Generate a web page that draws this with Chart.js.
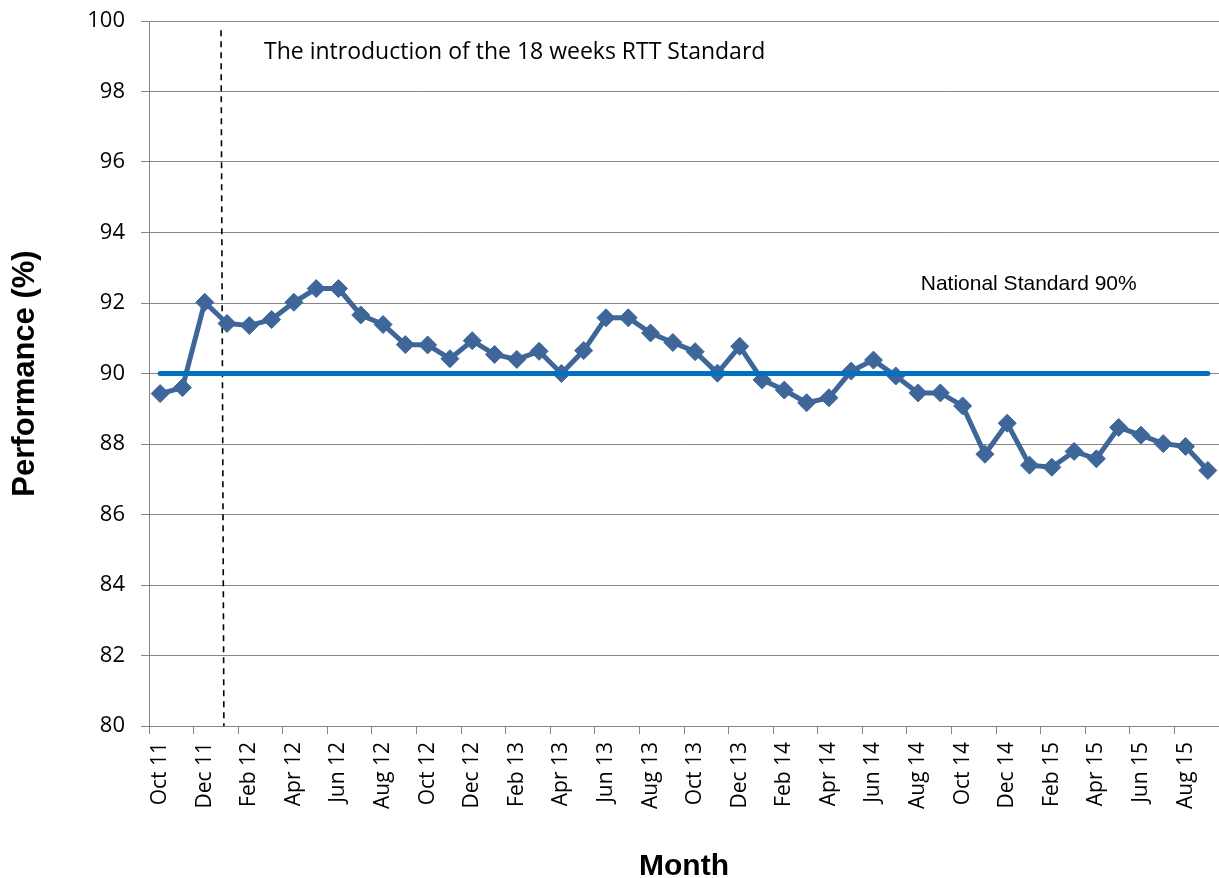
<!DOCTYPE html>
<html lang="en">
<head>
    <meta charset="UTF-8">
    <title>18 weeks RTT performance</title>
    <style>
        body {
            margin: 0;
            background-color: #fff;
        }
        .chart-box {
            position: relative;
            width: 1219px;
            height: 878px;
        }
    </style>
    <script src="https://cdn.jsdelivr.net/npm/chart.js"></script>
</head>
<body>
    <div class="chart-box">
        <canvas id="rttChart"></canvas>
    </div>

    <script>
        // months Oct 11 .. Sep 15
        const months = [
            'Oct 11', 'Nov 11', 'Dec 11', 'Jan 12', 'Feb 12', 'Mar 12', 'Apr 12', 'May 12',
            'Jun 12', 'Jul 12', 'Aug 12', 'Sep 12', 'Oct 12', 'Nov 12', 'Dec 12', 'Jan 13',
            'Feb 13', 'Mar 13', 'Apr 13', 'May 13', 'Jun 13', 'Jul 13', 'Aug 13', 'Sep 13',
            'Oct 13', 'Nov 13', 'Dec 13', 'Jan 14', 'Feb 14', 'Mar 14', 'Apr 14', 'May 14',
            'Jun 14', 'Jul 14', 'Aug 14', 'Sep 14', 'Oct 14', 'Nov 14', 'Dec 14', 'Jan 15',
            'Feb 15', 'Mar 15', 'Apr 15', 'May 15', 'Jun 15', 'Jul 15', 'Aug 15', 'Sep 15'
        ];

        // performance (%)
        const performance = [
            89.43, 89.60, 92.02, 91.42, 91.36, 91.53, 92.02, 92.41,
            92.41, 91.66, 91.39, 90.82, 90.81, 90.42, 90.93, 90.54,
            90.40, 90.63, 90.00, 90.65, 91.58, 91.58, 91.15, 90.88,
            90.62, 90.01, 90.77, 89.82, 89.53, 89.17, 89.31, 90.07,
            90.38, 89.93, 89.45, 89.45, 89.08, 87.71, 88.59, 87.40,
            87.34, 87.79, 87.58, 88.47, 88.25, 88.01, 87.93, 87.25
        ];

        // national standard line, drawn from first to last month
        const standardLine = [
            { x: 'Oct 11', y: 90 },
            { x: 'Sep 15', y: 90 }
        ];

        const yTicks = [80, 82, 84, 86, 88, 90, 92, 94, 96, 98, 100];

        // annotation anchors in chart units (category index, value)
        const introLine = { topIndex: 2.73, topValue: 99.74, bottomIndex: 2.86, bottomValue: 80 };
        const introText = { index: 4.66, value: 99.12, text: 'The introduction of the 18 weeks RTT Standard' };
        const standardText = { index: 34.12, value: 92.54, text: 'National Standard 90%' };

        const gridGrey = '#868686';

        const annotations = {
            id: 'annotations',
            beforeDatasetsDraw(chart) {
                const { ctx, scales: { x, y } } = chart;
                ctx.save();
                ctx.strokeStyle = '#000';
                ctx.lineWidth = 1.6;
                ctx.setLineDash([6, 5]);
                ctx.beginPath();
                ctx.moveTo(x.getPixelForValue(introLine.topIndex), y.getPixelForValue(introLine.topValue));
                ctx.lineTo(x.getPixelForValue(introLine.bottomIndex), y.getPixelForValue(introLine.bottomValue));
                ctx.stroke();
                ctx.setLineDash([]);

                ctx.fillStyle = '#000';
                ctx.textAlign = 'left';
                ctx.textBaseline = 'middle';
                ctx.font = '23px "Open Sans", sans-serif';
                ctx.fillText(introText.text, x.getPixelForValue(introText.index), y.getPixelForValue(introText.value));
                ctx.font = '21px "Liberation Sans", Arial, sans-serif';
                ctx.fillText(standardText.text, x.getPixelForValue(standardText.index), y.getPixelForValue(standardText.value));
                ctx.restore();
            }
        };

        const ctx = document.getElementById('rttChart').getContext('2d');
        new Chart(ctx, {
            type: 'line',
            data: {
                labels: months,
                datasets: [
                    {
                        label: 'National Standard',
                        data: standardLine,
                        borderColor: '#0070C0',
                        borderWidth: 5,
                        borderCapStyle: 'round',
                        pointRadius: 0,
                        fill: false,
                        order: 1
                    },
                    {
                        label: 'Performance',
                        data: performance,
                        borderColor: '#3E6699',
                        backgroundColor: '#3E6699',
                        borderWidth: 5,
                        pointStyle: 'rectRot',
                        pointRadius: 9,
                        pointBorderWidth: 1,
                        pointBackgroundColor: '#3E6699',
                        pointBorderColor: '#3E6699',
                        tension: 0,
                        fill: false,
                        order: 2
                    }
                ]
            },
            options: {
                responsive: true,
                maintainAspectRatio: false,
                animation: false,
                layout: {
                    autoPadding: false,
                    padding: { top: 21, right: 0, bottom: 0, left: 0 }
                },
                plugins: {
                    legend: { display: false },
                    tooltip: { enabled: false }
                },
                scales: {
                    x: {
                        offset: true,
                        grid: {
                            offset: true,
                            drawOnChartArea: false,
                            tickLength: 8,
                            color: c => (c.index % 2 === 0 ? gridGrey : 'rgba(0,0,0,0)')
                        },
                        border: { color: gridGrey, width: 1 },
                        ticks: {
                            autoSkip: false,
                            minRotation: 90,
                            maxRotation: 90,
                            padding: 8,
                            color: '#000',
                            font: { family: '"Open Sans", sans-serif', size: 21 },
                            callback: function (value, index) {
                                return index % 2 === 0 ? this.getLabelForValue(value) : '';
                            }
                        },
                        title: {
                            display: true,
                            text: 'Month',
                            color: '#000',
                            font: { family: '"Liberation Sans", Arial, sans-serif', size: 30, weight: 'bold', lineHeight: 0.75 },
                            padding: { top: 0, bottom: 0 }
                        },
                        afterFit(scale) {
                            scale.height = 152;
                            scale.paddingLeft = 0;
                            scale.paddingRight = 0;
                        }
                    },
                    y: {
                        min: 80,
                        max: 100,
                        afterBuildTicks(scale) {
                            scale.ticks = yTicks.map(v => ({ value: v }));
                        },
                        grid: {
                            color: gridGrey,
                            tickLength: 8
                        },
                        border: { color: gridGrey, width: 1 },
                        ticks: {
                            padding: 16,
                            color: '#000',
                            font: { family: '"Open Sans", sans-serif', size: 22 }
                        },
                        title: {
                            display: true,
                            text: 'Performance (%)',
                            color: '#000',
                            font: { family: '"Liberation Sans", Arial, sans-serif', size: 31, weight: 'bold', lineHeight: 1 },
                            padding: { top: 10, bottom: 0 }
                        },
                        afterFit(scale) {
                            scale.width = 149;
                            scale.paddingTop = 0;
                            scale.paddingBottom = 0;
                        }
                    }
                }
            },
            plugins: [annotations]
        });
    </script>
</body>
</html>
